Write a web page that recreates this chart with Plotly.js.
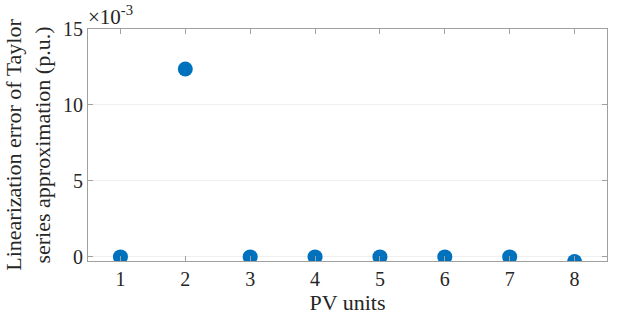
<!DOCTYPE html>
<html><head><meta charset="utf-8">
<script src="https://cdn.plot.ly/plotly-3.0.1.min.js"></script>
<style>html,body{margin:0;padding:0;background:#fff}#c{width:618px;height:320px}</style>
</head><body><div id="c"></div>
<script>
const pvUnits = [1, 2, 3, 4, 5, 6, 7, 8];
const errorValues = [0.0, 12.37, 0.0, 0.0, 0.0, 0.0, 0.0, -0.3]; // ×10^-3 p.u.
const yTicks = [0, 5, 10, 15];
const xTicks = [1, 2, 3, 4, 5, 6, 7, 8];

const font = 'Liberation Serif, Times New Roman, serif';
const axColor = '#a0a0a0';
const txt = '#262626';
Plotly.newPlot('c', [{
  x: pvUnits, y: errorValues, type: 'scatter', mode: 'markers',
  marker: {color: '#0072BD', size: 15}
}], {
  width: 618, height: 320,
  margin: {l: 88, r: 11, t: 29, b: 59},
  paper_bgcolor: '#fff', plot_bgcolor: '#fff',
  showlegend: false,
  font: {family: font, color: txt},
  xaxis: {range: [0.5, 8.5], tickvals: xTicks, ticktext: xTicks.map(String),
    ticks: 'inside', ticklen: 5, tickcolor: axColor, showline: true, linecolor: axColor, linewidth: 1,
    mirror: 'ticks', showgrid: false, zeroline: false,
    tickfont: {size: 20, family: font, color: txt},
    title: {text: 'PV units', font: {size: 22, family: font, color: txt}, standoff: 2}},
  yaxis: {range: [-0.27, 15], tickvals: yTicks, ticktext: yTicks.map(String),
    ticks: 'inside', ticklen: 5, tickcolor: axColor, showline: true, linecolor: axColor, linewidth: 1,
    mirror: 'ticks', showgrid: true, gridcolor: '#efefef', zeroline: false,
    tickfont: {size: 20, family: font, color: txt},
    title: {text: 'Linearization error of Taylor<br>series approximation (p.u.)', font: {size: 22, family: font, color: txt}, standoff: 6}},
  annotations: [{xref: 'paper', yref: 'paper', x: 0, y: 1, xanchor: 'left', yanchor: 'bottom',
    xshift: -2, yshift: -2, showarrow: false,
    text: '×10<sup>-3</sup>', font: {size: 21, family: font, color: txt}}]
}, {displayModeBar: false, staticPlot: true});
</script></body></html>
